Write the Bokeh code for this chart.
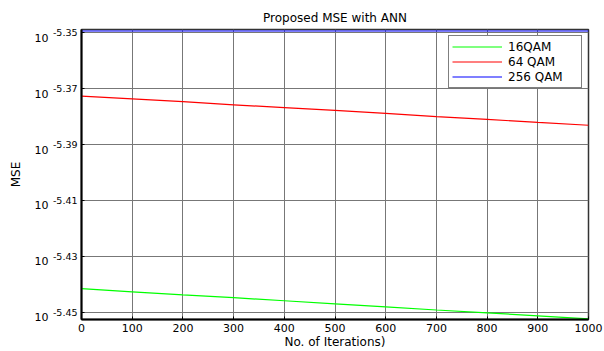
from bokeh.plotting import figure
from bokeh.models import Range1d, FixedTicker, LogAxis
from bokeh.embed import file_html
from bokeh.resources import INLINE

# ---- data ----
iterations = [0, 100, 200, 300, 400, 500, 600, 700, 800, 900, 1000]
mse_16qam = [3.6183e-6, 3.6091e-6, 3.6000e-6, 3.5917e-6, 3.5826e-6, 3.5735e-6,
             3.5645e-6, 3.5555e-6, 3.5473e-6, 3.5383e-6, 3.5294e-6]
mse_64qam = [4.2393e-6, 4.2296e-6, 4.2199e-6, 4.2092e-6, 4.1996e-6, 4.1899e-6,
             4.1793e-6, 4.1687e-6, 4.1591e-6, 4.1486e-6, 4.1390e-6]
mse_256qam = [4.4726e-6, 4.4726e-6, 4.4726e-6, 4.4726e-6, 4.4726e-6, 4.4726e-6,
              4.4726e-6, 4.4726e-6, 4.4726e-6, 4.4726e-6, 4.4726e-6]
series_names = ["16QAM", "64 QAM", "256 QAM"]
series_colors = ["#00ff00", "#ff0000", "#0000ff"]

x_ticks = [0, 100, 200, 300, 400, 500, 600, 700, 800, 900, 1000]
y_tick_exponents = [-5.35, -5.37, -5.39, -5.41, -5.43, -5.45]
y_tick_exp_labels = ["-5.35", "-5.37", "-5.39", "-5.41", "-5.43", "-5.45"]
y_tick_base = "10"
y_range_exponents = [-5.4525, -5.3489]

title_text = "Proposed MSE with ANN"
x_label_text = "No. of Iterations)"
y_label_text = "MSE"

FONT = "DejaVu Sans"
FRAME_H = 351 - 29 - 30          # plot-area height in px
BASE_DROP_PX = 5                 # "10" sits this far below its exponent
base_shift = BASE_DROP_PX * (y_range_exponents[1] - y_range_exponents[0]) / FRAME_H

p = figure(width=604, height=351, y_axis_type="log",
           x_range=Range1d(x_ticks[0], x_ticks[-1]),
           y_range=Range1d(10 ** y_range_exponents[0], 10 ** y_range_exponents[1]),
           output_backend="svg", toolbar_location=None,
           min_border_left=81, min_border_right=16, min_border_top=29, min_border_bottom=30,
           title=title_text)

p.background_fill_color = "white"
p.border_fill_color = "white"
p.outline_line_color = "#333333"
p.outline_line_width = 1.5

p.title.align = "center"
p.title.text_font = FONT
p.title.text_font_size = "12px"
p.title.text_font_style = "normal"
p.title.text_color = "black"
p.title.standoff = 10

# lines
for ys, name, col in zip([mse_16qam, mse_64qam, mse_256qam], series_names, series_colors):
    p.line(iterations, ys, line_color=col, line_width=1.2, legend_label=name)

# x axis
xa = p.xaxis[0]
xa.ticker = FixedTicker(ticks=x_ticks)
xa.major_label_text_font = FONT
xa.major_label_text_font_size = "11px"
xa.major_label_text_color = "black"
xa.major_label_standoff = 4
xa.major_tick_in = 3
xa.major_tick_out = 0
xa.minor_tick_line_color = None
xa.axis_line_color = "black"
xa.axis_line_width = 2
xa.major_tick_line_color = "black"
xa.axis_label = x_label_text
xa.axis_label_text_font = FONT
xa.axis_label_text_font_size = "12px"
xa.axis_label_text_font_style = "normal"
xa.axis_label_text_color = "black"
xa.axis_label_standoff = 0

# inner y axis: exponents (superscript part of 10^e)
y_tick_vals = [10 ** e for e in y_tick_exponents]
ya = p.yaxis[0]
ya.ticker = FixedTicker(ticks=y_tick_vals)
ya.major_label_overrides = {v: lab for v, lab in zip(y_tick_vals, y_tick_exp_labels)}
ya.major_label_text_font = FONT
ya.major_label_text_font_size = "9.5px"
ya.major_label_text_color = "black"
ya.major_label_standoff = 4
ya.major_tick_in = 3
ya.major_tick_out = 0
ya.minor_tick_line_color = None
ya.axis_line_color = "black"
ya.axis_line_width = 2
ya.major_tick_line_color = "black"

# outer y axis: base "10" (set slightly lower than the exponent) and the axis title
base_tick_vals = [10 ** (e - base_shift) for e in y_tick_exponents]
yb = LogAxis(ticker=FixedTicker(ticks=base_tick_vals))
yb.major_label_overrides = {v: y_tick_base for v in base_tick_vals}
yb.major_label_text_font = FONT
yb.major_label_text_font_size = "11px"
yb.major_label_text_color = "black"
yb.major_label_standoff = 1
yb.major_tick_in = 0
yb.major_tick_out = 0
yb.minor_tick_line_color = None
yb.major_tick_line_color = None
yb.axis_line_color = None
yb.axis_label = y_label_text
yb.axis_label_text_font = FONT
yb.axis_label_text_font_size = "12px"
yb.axis_label_text_font_style = "normal"
yb.axis_label_text_color = "black"
yb.axis_label_standoff = 9
p.add_layout(yb, "left")

# grids
p.xgrid.grid_line_color = "#777777"
p.ygrid.grid_line_color = "#777777"
p.xgrid.grid_line_width = 1
p.ygrid.grid_line_width = 1
p.ygrid.minor_grid_line_color = None

# legend
lg = p.legend[0]
lg.location = "top_right"
lg.margin = 6
lg.padding = 3
lg.spacing = 0
lg.glyph_width = 50
lg.glyph_height = 15
lg.label_height = 15
lg.label_width = 70
lg.label_standoff = 6
lg.label_text_font = FONT
lg.label_text_font_size = "12px"
lg.label_text_color = "black"
lg.border_line_color = "black"
lg.border_line_width = 1
lg.background_fill_color = "white"
lg.background_fill_alpha = 1

open("out.html", "w").write(file_html(p, INLINE))
